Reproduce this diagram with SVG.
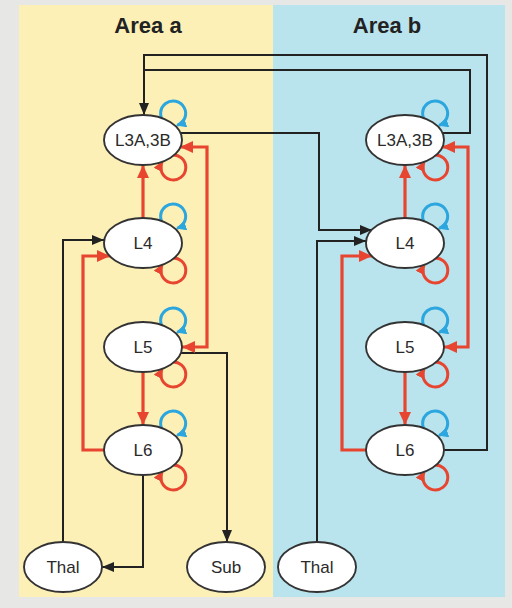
<svg xmlns="http://www.w3.org/2000/svg" width="512" height="608" viewBox="0 0 512 608">
<style>
.node ellipse{fill:#ffffff;stroke:#333333;stroke-width:1.9}
.node text{font-family:"Liberation Sans",Arial,sans-serif;font-size:17px;fill:#2a2a2a;text-anchor:middle}
.title{font-family:"Liberation Sans",Arial,sans-serif;font-size:22px;font-weight:bold;fill:#222222;text-anchor:middle}
.blk{fill:none;stroke:#222222;stroke-width:2}
.red{fill:none;stroke:#e84530;stroke-width:3.2}
.rloop{fill:none;stroke:#e84530;stroke-width:3}
.bloop{fill:none;stroke:#2ba6de;stroke-width:3}
</style>
<defs>
<marker id="ab" markerUnits="userSpaceOnUse" markerWidth="12" markerHeight="10" refX="12" refY="5" orient="auto"><path d="M0,0 L12,5 L0,10 z" fill="#222222"/></marker>
<marker id="ar" markerUnits="userSpaceOnUse" markerWidth="13" markerHeight="12" refX="13" refY="6" orient="auto-start-reverse"><path d="M0,0 L13,6 L0,12 z" fill="#e84530"/></marker>
<marker id="alr" markerUnits="userSpaceOnUse" markerWidth="10" markerHeight="10" refX="9" refY="5" orient="auto"><path d="M0,0 L10,5 L0,10 z" fill="#e84530"/></marker>
<marker id="alb" markerUnits="userSpaceOnUse" markerWidth="10" markerHeight="10" refX="9" refY="5" orient="auto"><path d="M0,0 L10,5 L0,10 z" fill="#2ba6de"/></marker>
</defs>
<rect x="0" y="0" width="512" height="608" fill="#e7e8e6"/>
<rect x="19" y="5" width="254" height="592" fill="#fdf0b6"/>
<rect x="273" y="5" width="232" height="592" fill="#b9e3ed"/>
<text class="title" x="148" y="33">Area a</text>
<text class="title" x="387" y="33">Area b</text>
<g id="connectors">
<path class="blk" d="M444,450 H487 V55 H144 V115" marker-end="url(#ab)"/>
<path class="blk" d="M442,133 H470 V70 H144"/>
<path class="blk" d="M180,133 H319 V230 H372" marker-end="url(#ab)"/>
<path class="blk" d="M317,542 V241 H366" marker-end="url(#ab)"/>
<path class="blk" d="M63,542 V240 H104" marker-end="url(#ab)"/>
<path class="blk" d="M181,353 H227 V542" marker-end="url(#ab)"/>
<path class="blk" d="M143,475 V567 H102" marker-end="url(#ab)"/>
<path class="red" d="M143,218 V165" marker-end="url(#ar)"/>
<path class="red" d="M143,372 V425" marker-end="url(#ar)"/>
<path class="red" d="M182,347 H207 V147 H180" marker-start="url(#ar)" marker-end="url(#ar)"/>
<path class="red" d="M104,450 H83 V256 H110" marker-end="url(#ar)"/>
<path class="red" d="M405,218 V165" marker-end="url(#ar)"/>
<path class="red" d="M405,372 V425" marker-end="url(#ar)"/>
<path class="red" d="M444,347 H468 V147 H442" marker-start="url(#ar)" marker-end="url(#ar)"/>
<path class="red" d="M366,450 H342 V256 H372" marker-end="url(#ar)"/>
<g transform="translate(143,140)">
<path class="bloop" d="M21.5,-17.5 A12.5,12.5 0 1 1 34.1,-14.7" marker-end="url(#alb)"/>
<path class="rloop" d="M27.9,15.2 A12.5,12.5 0 1 1 19.1,21.9" marker-end="url(#alr)"/>
</g>
<g transform="translate(143,243)">
<path class="bloop" d="M21.5,-17.5 A12.5,12.5 0 1 1 34.1,-14.7" marker-end="url(#alb)"/>
<path class="rloop" d="M27.9,15.2 A12.5,12.5 0 1 1 19.1,21.9" marker-end="url(#alr)"/>
</g>
<g transform="translate(143,347)">
<path class="bloop" d="M21.5,-17.5 A12.5,12.5 0 1 1 34.1,-14.7" marker-end="url(#alb)"/>
<path class="rloop" d="M27.9,15.2 A12.5,12.5 0 1 1 19.1,21.9" marker-end="url(#alr)"/>
</g>
<g transform="translate(143,450)">
<path class="bloop" d="M21.5,-17.5 A12.5,12.5 0 1 1 34.1,-14.7" marker-end="url(#alb)"/>
<path class="rloop" d="M27.9,15.2 A12.5,12.5 0 1 1 19.1,21.9" marker-end="url(#alr)"/>
</g>
<g transform="translate(405,140)">
<path class="bloop" d="M21.5,-17.5 A12.5,12.5 0 1 1 34.1,-14.7" marker-end="url(#alb)"/>
<path class="rloop" d="M27.9,15.2 A12.5,12.5 0 1 1 19.1,21.9" marker-end="url(#alr)"/>
</g>
<g transform="translate(405,243)">
<path class="bloop" d="M21.5,-17.5 A12.5,12.5 0 1 1 34.1,-14.7" marker-end="url(#alb)"/>
<path class="rloop" d="M27.9,15.2 A12.5,12.5 0 1 1 19.1,21.9" marker-end="url(#alr)"/>
</g>
<g transform="translate(405,347)">
<path class="bloop" d="M21.5,-17.5 A12.5,12.5 0 1 1 34.1,-14.7" marker-end="url(#alb)"/>
<path class="rloop" d="M27.9,15.2 A12.5,12.5 0 1 1 19.1,21.9" marker-end="url(#alr)"/>
</g>
<g transform="translate(405,450)">
<path class="bloop" d="M21.5,-17.5 A12.5,12.5 0 1 1 34.1,-14.7" marker-end="url(#alb)"/>
<path class="rloop" d="M27.9,15.2 A12.5,12.5 0 1 1 19.1,21.9" marker-end="url(#alr)"/>
</g>
</g>
<g id="a-L3" class="node"><ellipse cx="143" cy="140" rx="39" ry="25"/><text x="143" y="146">L3A,3B</text></g>
<g id="a-L4" class="node"><ellipse cx="143" cy="243" rx="39" ry="25"/><text x="143" y="249">L4</text></g>
<g id="a-L5" class="node"><ellipse cx="143" cy="347" rx="39" ry="25"/><text x="143" y="353">L5</text></g>
<g id="a-L6" class="node"><ellipse cx="143" cy="450" rx="39" ry="25"/><text x="143" y="456">L6</text></g>
<g id="b-L3" class="node"><ellipse cx="405" cy="140" rx="39" ry="25"/><text x="405" y="146">L3A,3B</text></g>
<g id="b-L4" class="node"><ellipse cx="405" cy="243" rx="39" ry="25"/><text x="405" y="249">L4</text></g>
<g id="b-L5" class="node"><ellipse cx="405" cy="347" rx="39" ry="25"/><text x="405" y="353">L5</text></g>
<g id="b-L6" class="node"><ellipse cx="405" cy="450" rx="39" ry="25"/><text x="405" y="456">L6</text></g>
<g id="a-Thal" class="node"><ellipse cx="63" cy="567" rx="39" ry="25"/><text x="63" y="573">Thal</text></g>
<g id="a-Sub" class="node"><ellipse cx="226" cy="567" rx="39" ry="25"/><text x="226" y="573">Sub</text></g>
<g id="b-Thal" class="node"><ellipse cx="317" cy="567" rx="39" ry="25"/><text x="317" y="573">Thal</text></g>
</svg>
